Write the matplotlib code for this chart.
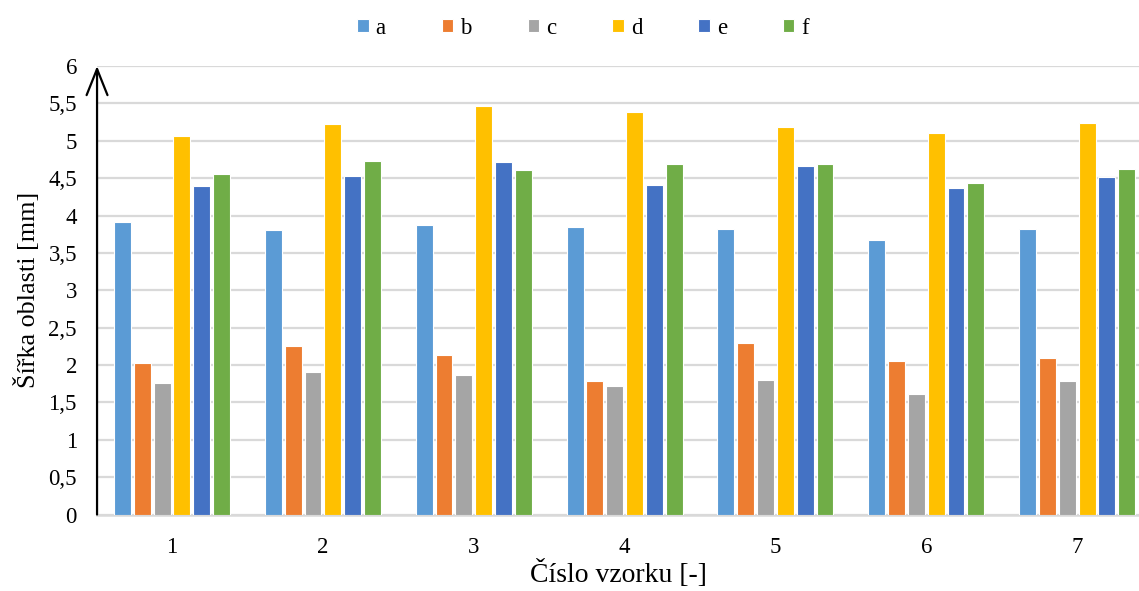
import numpy as np
from matplotlib import pyplot as plt

# values
samples = ['1', '2', '3', '4', '5', '6', '7']
series_names = ['a', 'b', 'c', 'd', 'e', 'f']
a_vals = [3.91, 3.80, 3.87, 3.84, 3.82, 3.67, 3.82]
b_vals = [2.03, 2.25, 2.13, 1.78, 2.29, 2.05, 2.09]
c_vals = [1.76, 1.90, 1.87, 1.72, 1.80, 1.61, 1.78]
d_vals = [5.07, 5.23, 5.47, 5.39, 5.18, 5.11, 5.24]
e_vals = [4.40, 4.53, 4.71, 4.41, 4.66, 4.37, 4.51]
f_vals = [4.56, 4.73, 4.61, 4.69, 4.69, 4.44, 4.62]
y_ticks = [0, 0.5, 1, 1.5, 2, 2.5, 3, 3.5, 4, 4.5, 5, 5.5, 6]
y_tick_labels = ['0', '0,5', '1', '1,5', '2', '2,5', '3', '3,5', '4', '4,5', '5', '5,5', '6']

colors = ['#5B9BD5', '#ED7D31', '#A5A5A5', '#FFC000', '#4472C4', '#70AD47']
grid_color = '#D9D9D9'

plt.rcParams['font.family'] = ['Liberation Serif', 'DejaVu Serif']

fig = plt.figure(figsize=(11.39, 5.91), dpi=100)
ax = fig.add_axes([0.0852, 0.1294, 0.9148, 0.7589])

x = np.arange(len(samples))
pitch = 0.1313
width = 0.112
all_vals = [a_vals, b_vals, c_vals, d_vals, e_vals, f_vals]
for j, vals in enumerate(all_vals):
    ax.bar(x + (j - 2.5) * pitch, vals, width, color=colors[j], edgecolor='white',
           linewidth=0.8, label=series_names[j], zorder=3)

ax.set_xlim(-0.497, 6.41)
ax.set_ylim(0, 6)
ax.set_yticks(y_ticks)
ax.set_yticklabels(y_tick_labels)
ax.set_xticks(x)
ax.set_xticklabels(samples)
ax.tick_params(axis='y', length=0, pad=14.5, labelsize=16.5)
ax.tick_params(axis='x', length=0, pad=16, labelsize=16.5)

ax.grid(axis='y', color=grid_color, linewidth=1.6, zorder=0)
for side in ['top', 'right', 'left']:
    ax.spines[side].set_visible(False)
ax.spines['bottom'].set_color(grid_color)
ax.spines['bottom'].set_linewidth(1.8)

# y axis drawn as an arrow
ax.annotate('', xy=(0, 1.0), xytext=(0, 0), xycoords='axes fraction',
            arrowprops=dict(arrowstyle='->,head_length=0.4,head_width=0.16',
                            lw=1.6, color='black', mutation_scale=47,
                            shrinkA=0, shrinkB=0),
            annotation_clip=False, zorder=5)

ax.set_ylabel('Šířka oblasti [mm]', fontsize=18.8, labelpad=6)
ax.set_xlabel('Číslo vzorku [-]', fontsize=20, labelpad=1.5)

fig.legend(loc='upper center', bbox_to_anchor=(0.512, 1.005), ncol=6, frameon=False,
           fontsize=16.5, handlelength=0.5, handleheight=0.5, handletextpad=0.3,
           columnspacing=2.45)

fig.savefig('out.png', dpi=100)
